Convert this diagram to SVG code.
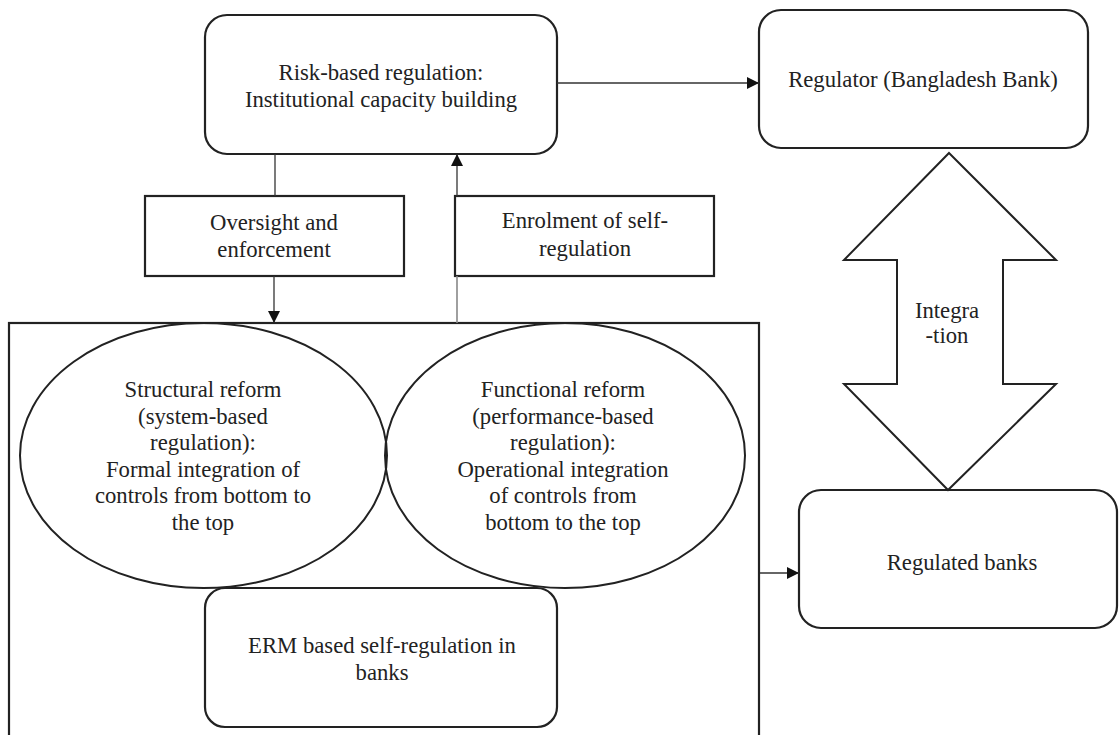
<svg xmlns="http://www.w3.org/2000/svg" width="1119" height="735" viewBox="0 0 1119 735">
<defs>
<style>
.box{fill:#fff;stroke:#222;stroke-width:2.2}
.ell{fill:none;stroke:#222;stroke-width:2}
.con{fill:none;stroke:#333;stroke-width:1.3}
.lite{fill:none;stroke:#888;stroke-width:1.6}
text{font-family:"Liberation Serif","Times New Roman",serif;font-size:22.7px;fill:#222;text-anchor:middle}
</style>
<marker id="ah" viewBox="0 0 10 10" refX="10" refY="5" markerWidth="12" markerHeight="12" markerUnits="userSpaceOnUse" orient="auto">
<path d="M0,0 L10,5 L0,10 z" fill="#111"/>
</marker>
</defs>
<rect width="1119" height="735" fill="#fff"/>

<g id="bank-container">
<rect class="box" x="9" y="323" width="750" height="430"/>
</g>

<g id="structural-reform">
<ellipse class="ell" cx="203.5" cy="455.5" rx="183.5" ry="132.5"/>
<text x="203" y="397">Structural reform</text>
<text x="203" y="424">(system-based</text>
<text x="203" y="450">regulation):</text>
<text x="203" y="477">Formal integration of</text>
<text x="203" y="503">controls from bottom to</text>
<text x="203" y="530">the top</text>
</g>

<g id="functional-reform">
<ellipse class="ell" cx="565" cy="455.5" rx="180" ry="132.5"/>
<text x="563" y="397">Functional reform</text>
<text x="563" y="424">(performance-based</text>
<text x="563" y="450">regulation):</text>
<text x="563" y="477">Operational integration</text>
<text x="563" y="503">of controls from</text>
<text x="563" y="530">bottom to the top</text>
</g>

<g id="erm">
<rect class="box" x="205" y="588" width="352" height="139" rx="20"/>
<text x="382" y="653">ERM based self-regulation in</text>
<text x="382" y="680">banks</text>
</g>

<g id="risk-based">
<rect class="box" x="205" y="15" width="352" height="139" rx="22"/>
<text x="381" y="80">Risk-based regulation:</text>
<text x="381" y="107">Institutional capacity building</text>
</g>

<g id="regulator">
<rect class="box" x="759" y="10" width="329" height="138" rx="22"/>
<text x="923" y="87">Regulator (Bangladesh Bank)</text>
</g>

<g id="oversight">
<rect class="box" x="145" y="196" width="259" height="80"/>
<text x="274" y="230">Oversight and</text>
<text x="274" y="257">enforcement</text>
</g>

<g id="enrolment">
<rect class="box" x="455" y="196" width="259" height="80"/>
<text x="585" y="228">Enrolment of self-</text>
<text x="585" y="256">regulation</text>
</g>

<g id="regulated-banks">
<rect class="box" x="799" y="490" width="318" height="138" rx="22"/>
<text x="962" y="570">Regulated banks</text>
</g>

<g id="integration">
<path class="ell" d="M949,153 L1056,260 L1003,260 L1003,384 L1056,384 L948,490 L844,384 L897,384 L897,260 L844,260 Z" style="fill:#fff"/>
<text x="947" y="318">Integra</text>
<text x="947" y="343">-tion</text>
</g>

<g id="connectors">
<line class="con" x1="557" y1="83" x2="759" y2="83" marker-end="url(#ah)"/>
<line class="con" x1="275" y1="154" x2="275" y2="196"/>
<line class="con" x1="274" y1="276" x2="274" y2="323" marker-end="url(#ah)"/>
<line class="lite" x1="457" y1="323" x2="457" y2="276"/>
<line class="con" x1="457" y1="196" x2="457" y2="154" marker-end="url(#ah)"/>
<line class="con" x1="760" y1="573" x2="799" y2="573" marker-end="url(#ah)"/>
</g>
</svg>
